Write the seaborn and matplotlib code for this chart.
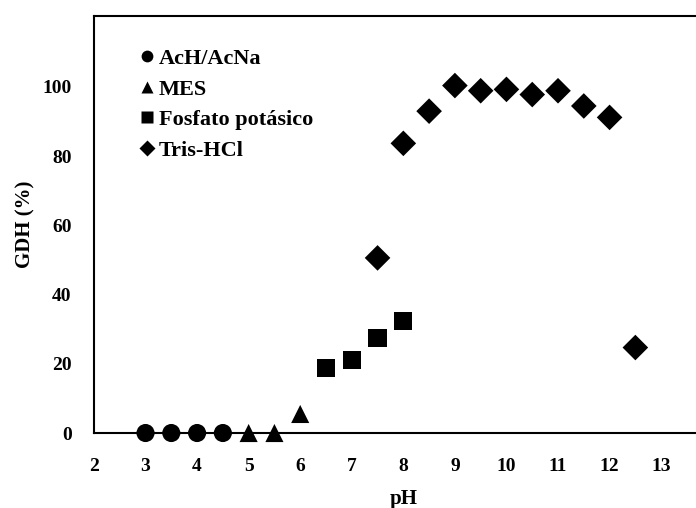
import pandas as pd
import seaborn as sns
import matplotlib.pyplot as plt

# pH y actividad relativa de GDH (%) por tampón
ph_acetato = [3, 3.5, 4, 4.5]
gdh_acetato = [0, 0, 0, 0]
ph_mes = [5, 5.5, 6]
gdh_mes = [0, 0, 5.5]
ph_fosfato = [6.5, 7, 7.5, 8]
gdh_fosfato = [18.9, 21.2, 27.4, 32.4]
ph_tris = [7.5, 8, 8.5, 9, 9.5, 10, 10.5, 11, 11.5, 12, 12.5]
gdh_tris = [50.6, 83.7, 93.0, 100.4, 98.9, 99.3, 97.8, 98.9, 94.5, 91.2, 24.7]

tampones = ['AcH/AcNa', 'MES', 'Fosfato potásico', 'Tris-HCl']
x_ticks = list(range(2, 14))
y_ticks = [0, 20, 40, 60, 80, 100]

df = pd.concat([
    pd.DataFrame({'pH': ph_acetato, 'GDH': gdh_acetato, 'tampon': tampones[0]}),
    pd.DataFrame({'pH': ph_mes, 'GDH': gdh_mes, 'tampon': tampones[1]}),
    pd.DataFrame({'pH': ph_fosfato, 'GDH': gdh_fosfato, 'tampon': tampones[2]}),
    pd.DataFrame({'pH': ph_tris, 'GDH': gdh_tris, 'tampon': tampones[3]}),
], ignore_index=True)

sns.set_style('white')
plt.rcParams['font.family'] = ['Liberation Serif', 'DejaVu Serif']
plt.rcParams['font.weight'] = 'bold'
plt.rcParams['text.color'] = 'black'
plt.rcParams['axes.labelcolor'] = 'black'
plt.rcParams['xtick.color'] = 'black'
plt.rcParams['ytick.color'] = 'black'

fig = plt.figure(figsize=(6.96, 5.08), dpi=100)
ax = fig.add_axes([0.135, 0.1476, 1.024 - 0.135, 0.9685 - 0.1476])

marcadores = {'AcH/AcNa': 'o', 'MES': '^', 'Fosfato potásico': 's', 'Tris-HCl': 'D'}
sns.scatterplot(data=df, x='pH', y='GDH', style='tampon', style_order=tampones,
                markers=marcadores, color='black', s=170, edgecolor='none',
                ax=ax, clip_on=False, zorder=3)

ax.set_xlim(2, 14)
ax.set_ylim(0, 120.5)
ax.set_xticks(x_ticks)
ax.set_yticks(y_ticks)
ax.tick_params(direction='in', length=5, width=1.5, labelsize=14,
               colors='black', labelcolor='black')
ax.tick_params(axis='x', pad=18)
ax.tick_params(axis='y', pad=16)
for lab in ax.get_xticklabels() + ax.get_yticklabels():
    lab.set_fontweight('bold')
for side in ['left', 'bottom', 'top']:
    ax.spines[side].set_linewidth(1.5)
    ax.spines[side].set_color('black')
ax.spines['right'].set_visible(False)
ax.set_xlabel('pH', fontsize=15, fontweight='bold', labelpad=10, color='black')
ax.set_ylabel('GDH (%)', fontsize=15, fontweight='bold', labelpad=5, color='black')

leg = ax.legend(loc='upper left', bbox_to_anchor=(0.035, 0.97), frameon=False,
                handletextpad=0.05, handlelength=1.0, labelspacing=0.45,
                markerscale=0.65, prop={'size': 16, 'weight': 'bold'})
for t in leg.get_texts():
    t.set_color('black')

fig.savefig('out.png', dpi=100)
